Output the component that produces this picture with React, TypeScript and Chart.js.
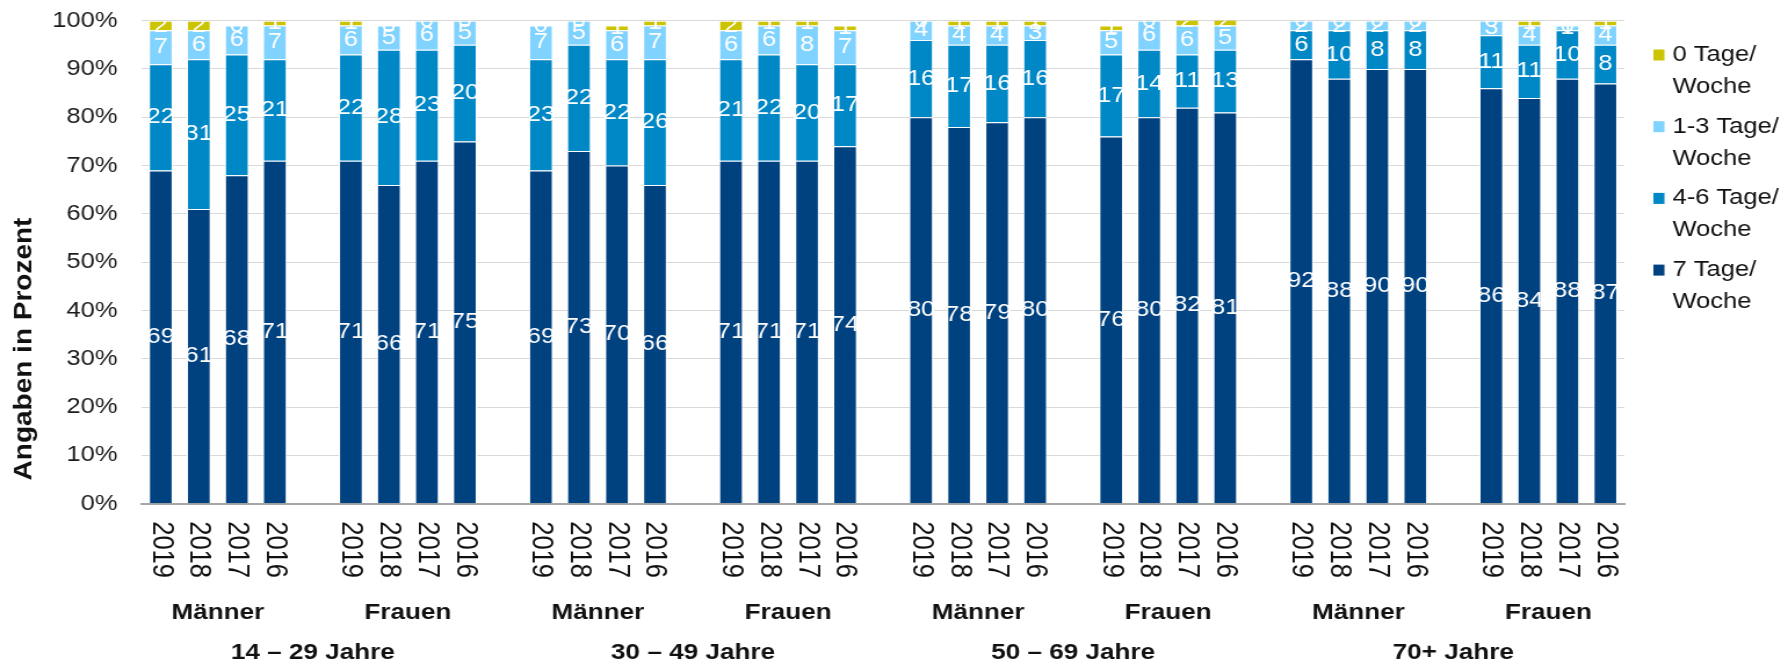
import React, { useEffect, useRef } from 'react';
import { Chart, registerables } from 'chart.js';

Chart.register(...registerables);

// ---- Data ----
const years = ['2019', '2018', '2017', '2016'];
const genders = ['Männer', 'Frauen', 'Männer', 'Frauen', 'Männer', 'Frauen', 'Männer', 'Frauen'];
const ageGroups = ['14 – 29 Jahre', '30 – 49 Jahre', '50 – 69 Jahre', '70+ Jahre'];

const seriesNames = ['7 Tage/\nWoche', '4-6 Tage/\nWoche', '1-3 Tage/\nWoche', '0 Tage/\nWoche'];
const seriesColors = ['#00417F', '#0087C6', '#80D2FF', '#CCC400'];

// values per bar: groups in order, each group 2019, 2018, 2017, 2016
const tage7 = [69, 61, 68, 71, 71, 66, 71, 75, 69, 73, 70, 66, 71, 71, 71, 74, 80, 78, 79, 80, 76, 80, 82, 81, 92, 88, 90, 90, 86, 84, 88, 87];
const tage46 = [22, 31, 25, 21, 22, 28, 23, 20, 23, 22, 22, 26, 21, 22, 20, 17, 16, 17, 16, 16, 17, 14, 11, 13, 6, 10, 8, 8, 11, 11, 10, 8];
const tage13 = [7, 6, 6, 7, 6, 5, 6, 5, 7, 5, 6, 7, 6, 6, 8, 7, 4, 4, 4, 3, 5, 6, 6, 5, 2, 2, 2, 2, 3, 4, 1, 4];
const tage0 = [2, 2, 0, 1, 1, 0, 0, 0, 0, 0, 1, 1, 2, 1, 1, 1, 0, 1, 1, 1, 1, 0, 2, 2, 0, 0, 0, 0, 0, 1, 0, 1];

const yTicks = [0, 10, 20, 30, 40, 50, 60, 70, 80, 90, 100];

// ---- Build category table (one empty spacer category between groups) ----
const FONT = '"Liberation Sans", Arial, sans-serif';
const nGroups = genders.length;
const labels: string[] = [];
for (let g = 0; g < nGroups; g++) {
  years.forEach((y) => labels.push(y));
  if (g < nGroups - 1) labels.push('');
}
function spread(vals: number[]): (number | null)[] {
  const out: (number | null)[] = [];
  for (let g = 0; g < nGroups; g++) {
    for (let k = 0; k < years.length; k++) out.push(vals[g * years.length + k]);
    if (g < nGroups - 1) out.push(null);
  }
  return out;
}
const seriesValues = [tage7, tage46, tage13, tage0];

// canvas is drawn narrower and stretched horizontally (like the reference)
const CSS_W = 1788;
const H = 660;
const STRETCH = 1.16;
const W = Math.round(CSS_W / STRETCH);

const decorPlugin = {
  id: 'decor',
  afterDatasetsDraw(chart: any) {
    const ctx = chart.ctx;
    const area = chart.chartArea;
    ctx.save();
    ctx.beginPath();
    ctx.rect(area.left, area.top, area.right - area.left, area.bottom - area.top);
    ctx.clip();
    ctx.fillStyle = '#ffffff';
    ctx.font = `22px ${FONT}`;
    ctx.textAlign = 'center';
    ctx.textBaseline = 'middle';
    chart.data.datasets.forEach((ds: any, di: number) => {
      const meta = chart.getDatasetMeta(di);
      meta.data.forEach((el: any, i: number) => {
        const v = ds.data[i];
        if (v === null || v === undefined) return;
        const p = el.getProps(['x', 'y', 'base'], true);
        ctx.fillText(String(Math.round(v)), p.x, (p.y + p.base) / 2);
      });
    });
    ctx.restore();
  },
  afterDraw(chart: any) {
    const ctx = chart.ctx;
    const area = chart.chartArea;
    const xs = chart.scales.x;
    ctx.save();
    // year labels rotated clockwise
    ctx.fillStyle = '#111111';
    ctx.font = `25.5px ${FONT}`;
    ctx.textAlign = 'left';
    ctx.textBaseline = 'middle';
    labels.forEach((lab, i) => {
      if (!lab) return;
      const x = xs.getPixelForValue(i);
      ctx.save();
      ctx.translate(x, area.bottom + 17.5);
      ctx.rotate(Math.PI / 2);
      ctx.fillText(lab, 0, 0);
      ctx.restore();
    });
    // gender labels
    ctx.font = `bold 22.5px ${FONT}`;
    ctx.textAlign = 'center';
    ctx.textBaseline = 'alphabetic';
    const per = years.length + 1;
    genders.forEach((gname, g) => {
      const x0 = xs.getPixelForValue(g * per);
      const x1 = xs.getPixelForValue(g * per + years.length - 1);
      ctx.fillText(gname, (x0 + x1) / 2, 619);
    });
    // age group labels
    ageGroups.forEach((a, k) => {
      const x = xs.getPixelForValue(k * 2 * per + years.length);
      ctx.fillText(a, x, 659);
    });
    // y axis title
    ctx.save();
    ctx.font = `bold 28px ${FONT}`;
    ctx.translate(21, 349);
    ctx.rotate(-Math.PI / 2);
    ctx.scale(1, 0.8);
    ctx.textAlign = 'center';
    ctx.textBaseline = 'middle';
    ctx.fillText('Angaben in Prozent', 0, 0);
    ctx.restore();
    // legend (reverse order)
    ctx.font = `22px ${FONT}`;
    ctx.textAlign = 'left';
    ctx.textBaseline = 'middle';
    const order = chart.data.datasets.map((_: any, i: number) => i).reverse();
    order.forEach((di: number, k: number) => {
      const ds = chart.data.datasets[di];
      const yc = 55 + k * 71.7;
      ctx.fillStyle = ds.backgroundColor;
      ctx.fillRect(1425, yc - 5.5, 9.5, 11);
      ctx.fillStyle = '#111111';
      const lines = String(ds.label).split('\n');
      lines.forEach((ln, j) => ctx.fillText(ln, 1441.4, yc + j * 32));
    });
    ctx.restore();
  },
};

export default function App() {
  const ref = useRef<HTMLCanvasElement | null>(null);
  useEffect(() => {
    document.body.style.margin = '0';
    if (!ref.current) return;
    const chart = new Chart(ref.current, {
      type: 'bar',
      data: {
        labels,
        datasets: seriesValues.map((vals, i) => ({
          label: seriesNames[i],
          data: spread(vals),
          backgroundColor: seriesColors[i],
          borderColor: '#ffffff',
          borderWidth: 1,
          barPercentage: 0.63,
          categoryPercentage: 1,
        })),
      },
      options: {
        responsive: false,
        maintainAspectRatio: false,
        devicePixelRatio: 1,
        animation: false,
        layout: { padding: { top: 20.7, right: W - 1400, left: 0, bottom: 0 } },
        plugins: { legend: { display: false }, tooltip: { enabled: false }, title: { display: false } },
        scales: {
          x: {
            stacked: true,
            grid: { display: false },
            border: { display: true, color: '#A6A6A6', width: 2 },
            ticks: { display: false },
            afterFit: (s: any) => {
              s.height = H - 503.7;
            },
          },
          y: {
            stacked: true,
            min: 0,
            max: 100,
            afterBuildTicks: (s: any) => {
              s.ticks = yTicks.map((v) => ({ value: v }));
            },
            ticks: {
              callback: (v: any) => `${v}%`,
              font: { family: FONT, size: 22 },
              color: '#1a1a1a',
              padding: 21,
            },
            grid: { color: '#D9D9D9', lineWidth: 1, drawTicks: false },
            border: { display: false },
            afterFit: (s: any) => {
              s.width = 122.2;
              s.paddingTop = 0;
              s.paddingBottom = 0;
            },
          },
        },
      },
      plugins: [decorPlugin],
    });
    return () => chart.destroy();
  }, []);
  return (
    <canvas
      ref={ref}
      width={W}
      height={H}
      style={{ width: `${CSS_W}px`, height: `${H}px`, display: 'block' }}
    />
  );
}
